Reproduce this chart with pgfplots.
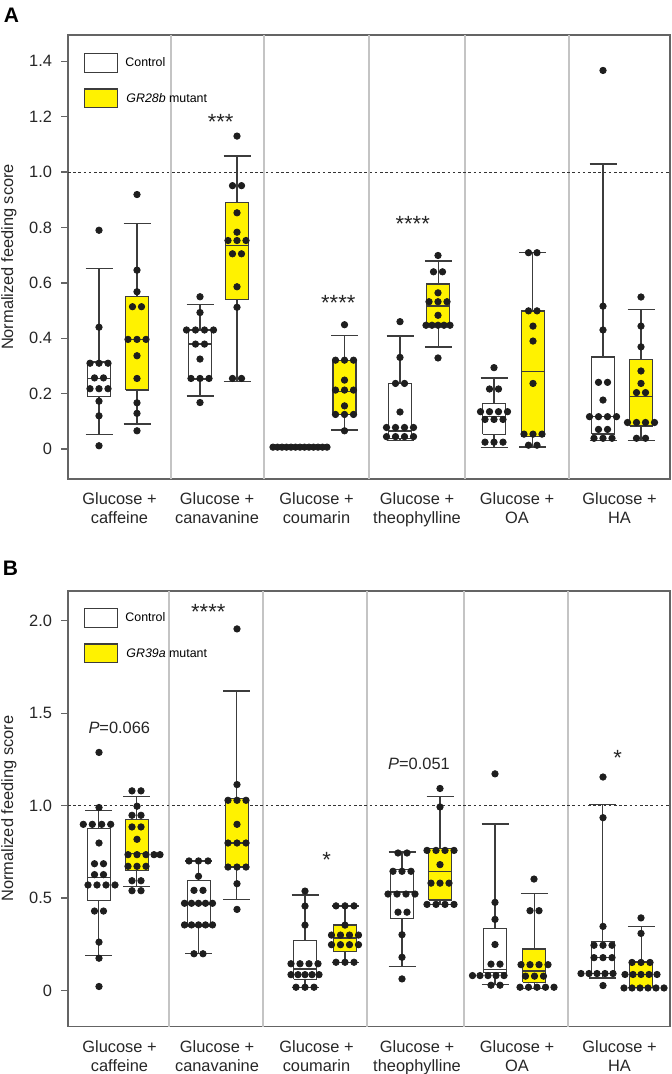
\documentclass[border=0pt]{standalone}
\usepackage{fontspec}
\setmainfont{Liberation Sans}
\usepackage{pgfplots}
\pgfplotsset{compat=1.18}
\definecolor{ylw}{HTML}{FFF200}
\definecolor{boxc}{HTML}{3C3C3C}
\definecolor{dotc}{HTML}{1E1E1E}
\definecolor{axc}{HTML}{646464}
\definecolor{sepc}{HTML}{C4C4C4}

\pgfplotsset{
  panel/.style={scale only axis, width=301pt, xmin=68, xmax=670,
    axis line style={draw=axc, line width=0.7pt},
    tick align=outside, ytick pos=left, major tick length=3.5pt,
    ytick style={draw=axc, line width=0.7pt}, xtick style={draw=none},
    tick label style={font=\fontsize{8.2}{9.3}\selectfont, text=black!85},
    xticklabel style={align=center, yshift=0pt},
    yticklabel style={xshift=-1pt},
    ylabel={Normalized feeding score},
    ylabel style={at={(axis description cs:-0.098,0.5)}, anchor=center,
      font=\fontsize{8.2}{9.6}\selectfont, text=black!85},
    xtick={119.5,217,316.5,417,517,619.5},
    xticklabels={{Glucose +\\caffeine},{Glucose +\\canavanine},{Glucose +\\coumarin},
      {Glucose +\\theophylline},{Glucose +\\OA},{Glucose +\\HA}},
    extra y ticks={1}, extra y tick labels={},
    extra y tick style={grid=major, major tick length=0pt,
      major grid style={draw=black!80, line width=0.5pt, dash pattern=on 1.3pt off 1.3pt}},
    extra x tick labels={},
    extra x tick style={grid=major, major grid style={draw=sepc, line width=0.6pt}},
    unbounded coords=jump,
  },
  bx/.style={draw=boxc, line width=0.65pt, solid, mark=none},
  dots/.style={only marks, mark=*, mark size=1.6pt, color=dotc,
    mark options={draw=dotc, fill=dotc}},
}
\tikzset{
  ann/.style={font=\fontsize{11}{13}\selectfont, text=black!85},
  pv/.style={font=\fontsize{8.2}{9.6}\selectfont, text=black!85},
}

\begin{document}
\begin{tikzpicture}
\path[use as bounding box] (0,0) rectangle (336pt,-537pt);

% ---------------- panel A ----------------
\begin{axis}[panel, at={(34pt,-239.5pt)}, anchor=south west, height=222pt,
  ymin=-0.108, ymax=1.495,
  ytick={0,0.2,0.4,0.6,0.8,1,1.2,1.4},
  yticklabels={0,0.2,0.4,0.6,0.8,1.0,1.2,1.4},
  extra x ticks={171,264,369,465,569}]
  % whiskers and caps
  \addplot[bx] coordinates {
    (99,0.053)(99,0.652)(nan,nan)(85.5,0.053)(112.5,0.053)(nan,nan)(85.5,0.652)(112.5,0.652)(nan,nan)
    (137,0.091)(137,0.815)(nan,nan)(123.5,0.091)(150.5,0.091)(nan,nan)(123.5,0.815)(150.5,0.815)(nan,nan)
    (200,0.192)(200,0.522)(nan,nan)(186.5,0.192)(213.5,0.192)(nan,nan)(186.5,0.522)(213.5,0.522)(nan,nan)
    (237,0.243)(237,1.058)(nan,nan)(223.5,0.243)(250.5,0.243)(nan,nan)(223.5,1.058)(250.5,1.058)(nan,nan)
    (292.5,0.007)(319.5,0.007)(nan,nan)
    (344.5,0.069)(344.5,0.409)(nan,nan)(331,0.069)(358,0.069)(nan,nan)(331,0.409)(358,0.409)(nan,nan)
    (400,0.03)(400,0.408)(nan,nan)(386.5,0.03)(413.5,0.03)(nan,nan)(386.5,0.408)(413.5,0.408)(nan,nan)
    (438.3,0.369)(438.3,0.679)(nan,nan)(424.8,0.369)(451.8,0.369)(nan,nan)(424.8,0.679)(451.8,0.679)(nan,nan)
    (494,0.006)(494,0.257)(nan,nan)(480.5,0.006)(507.5,0.006)(nan,nan)(480.5,0.257)(507.5,0.257)(nan,nan)
    (532.7,0.008)(532.7,0.709)(nan,nan)(519.2,0.008)(546.2,0.008)(nan,nan)(519.2,0.709)(546.2,0.709)(nan,nan)
    (603,0.03)(603,1.029)(nan,nan)(589.5,0.03)(616.5,0.03)(nan,nan)(589.5,1.029)(616.5,1.029)(nan,nan)
    (641,0.03)(641,0.504)(nan,nan)(627.5,0.03)(654.5,0.03)(nan,nan)(627.5,0.504)(654.5,0.504)
  };
  % boxes (lower quartile to upper quartile)
  \addplot[bx, fill=white] coordinates {(87.5,0.189)(110.5,0.189)(110.5,0.314)(87.5,0.314)(87.5,0.189)};
  \addplot[bx, fill=ylw] coordinates {(125.5,0.213)(148.5,0.213)(148.5,0.55)(125.5,0.55)(125.5,0.213)};
  \addplot[bx, fill=white] coordinates {(188.5,0.253)(211.5,0.253)(211.5,0.43)(188.5,0.43)(188.5,0.253)};
  \addplot[bx, fill=ylw] coordinates {(225.5,0.54)(248.5,0.54)(248.5,0.889)(225.5,0.889)(225.5,0.54)};
  \addplot[bx, fill=white] coordinates {(294.5,0.005)(317.5,0.005)(317.5,0.009)(294.5,0.009)(294.5,0.005)};
  \addplot[bx, fill=ylw] coordinates {(333,0.125)(356,0.125)(356,0.321)(333,0.321)(333,0.125)};
  \addplot[bx, fill=white] coordinates {(388.5,0.039)(411.5,0.039)(411.5,0.237)(388.5,0.237)(388.5,0.039)};
  \addplot[bx, fill=ylw] coordinates {(426.8,0.447)(449.8,0.447)(449.8,0.596)(426.8,0.596)(426.8,0.447)};
  \addplot[bx, fill=white] coordinates {(482.5,0.053)(505.5,0.053)(505.5,0.165)(482.5,0.165)(482.5,0.053)};
  \addplot[bx, fill=ylw] coordinates {(521.2,0.045)(544.2,0.045)(544.2,0.499)(521.2,0.499)(521.2,0.045)};
  \addplot[bx, fill=white] coordinates {(591.5,0.054)(614.5,0.054)(614.5,0.333)(591.5,0.333)(591.5,0.054)};
  \addplot[bx, fill=ylw] coordinates {(629.5,0.083)(652.5,0.083)(652.5,0.324)(629.5,0.324)(629.5,0.083)};
  % medians
  \addplot[bx] coordinates {
    (87.5,0.255)(110.5,0.255)(nan,nan)(125.5,0.396)(148.5,0.396)(nan,nan)
    (188.5,0.379)(211.5,0.379)(nan,nan)(225.5,0.735)(248.5,0.735)(nan,nan)
    (333,0.209)(356,0.209)(nan,nan)(388.5,0.065)(411.5,0.065)(nan,nan)
    (426.8,0.517)(449.8,0.517)(nan,nan)(482.5,0.117)(505.5,0.117)(nan,nan)
    (521.2,0.279)(544.2,0.279)(nan,nan)(591.5,0.117)(614.5,0.117)(nan,nan)
    (629.5,0.189)(652.5,0.189)
  };
  % individual flies
  \addplot[dots] coordinates {
    (99,0.79) (99,0.44) (90,0.31) (99,0.31) (108,0.31) (94.5,0.257) (103.5,0.257)
    (90,0.218) (99,0.218) (108,0.218) (99,0.173) (99,0.12) (99,0.012)
    (137,0.919) (137,0.646) (137,0.568) (132.5,0.514) (141.5,0.514) (128,0.396) (137,0.396)
    (146,0.396) (137,0.337) (137,0.255) (137,0.167) (137,0.129) (137,0.066)
    (200,0.55) (200,0.493) (186.5,0.43) (195.5,0.43) (204.5,0.43) (213.5,0.43) (195.5,0.379)
    (204.5,0.379) (200,0.325) (191,0.255) (200,0.255) (209,0.255) (200,0.168)
    (237,1.13) (232.5,0.951) (241.5,0.951) (237,0.853) (237,0.783) (228,0.753) (237,0.753)
    (246,0.753) (232.5,0.705) (241.5,0.705) (237,0.586) (237,0.512) (232.5,0.255) (241.5,0.255)
    (273,0.007) (277.5,0.007) (282,0.007) (286.5,0.007) (291,0.007) (295.5,0.007) (300,0.007)
    (304.5,0.007) (309,0.007) (313.5,0.007) (318,0.007) (322.5,0.007) (327,0.007)
    (344.5,0.449) (335.5,0.321) (344.5,0.321) (353.5,0.321) (344.5,0.249) (335.5,0.213)
    (344.5,0.213) (353.5,0.213) (344.5,0.156) (335.5,0.125) (344.5,0.125) (353.5,0.125) (344.5,0.066)
    (400,0.46) (400,0.331) (395.5,0.237) (404.5,0.237) (400,0.134) (386.5,0.078) (395.5,0.078)
    (404.5,0.078) (413.5,0.078) (386.5,0.045) (395.5,0.045) (404.5,0.045) (413.5,0.045)
    (438,0.699) (433.5,0.64) (442.5,0.64) (438,0.564) (429,0.532) (438,0.532) (447,0.532)
    (438,0.483) (426,0.447) (432,0.447) (438,0.447) (444,0.447) (450,0.447) (438,0.329)
    (494,0.294) (489.5,0.217) (498.5,0.217) (480.5,0.135) (489.5,0.135) (498.5,0.135) (507.5,0.135)
    (485,0.107) (494,0.107) (503,0.107) (485,0.025) (494,0.025) (503,0.025)
    (528.5,0.709) (537,0.709) (528.5,0.499) (537,0.499) (533,0.444) (533,0.39) (533,0.237)
    (524,0.054) (533,0.054) (542,0.054) (528.5,0.014) (537,0.014)
    (603,1.367) (603,0.516) (603,0.43) (598.5,0.241) (607.5,0.241) (603,0.177) (589.5,0.117)
    (598.5,0.117) (607.5,0.117) (616.5,0.117) (598.5,0.071) (607.5,0.071) (594,0.039) (603,0.039) (612,0.039)
    (641,0.549) (641,0.444) (641,0.369) (641,0.282) (641,0.237) (636.5,0.204) (645.5,0.204)
    (627.5,0.096) (636.5,0.096) (645.5,0.096) (654.5,0.096) (636.5,0.039) (645.5,0.039)
  };
  \node[ann, yshift=-2.2pt] at (axis cs:220.7,1.197) {***};
  \node[ann, yshift=-2.2pt] at (axis cs:338.3,0.544) {****};
  \node[ann, yshift=-2.2pt] at (axis cs:412.7,0.83) {****};
\end{axis}

% ---------------- panel B ----------------
\begin{axis}[panel, at={(34pt,-513.3pt)}, anchor=south west, height=217.8pt,
  ymin=-0.195, ymax=2.161,
  ytick={0,0.5,1,1.5,2},
  yticklabels={0,0.5,1.0,1.5,2.0},
  extra x ticks={169,263,367,464,568}]
  \addplot[bx] coordinates {
    (98.7,0.19)(98.7,0.975)(nan,nan)(85.2,0.19)(112.2,0.19)(nan,nan)(85.2,0.975)(112.2,0.975)(nan,nan)
    (136.7,0.563)(136.7,1.051)(nan,nan)(123.2,0.563)(150.2,0.563)(nan,nan)(123.2,1.051)(150.2,1.051)(nan,nan)
    (198.7,0.199)(198.7,0.701)(nan,nan)(185.2,0.199)(212.2,0.199)(nan,nan)(185.2,0.701)(212.2,0.701)(nan,nan)
    (236.7,0.493)(236.7,1.62)(nan,nan)(223.2,0.493)(250.2,0.493)(nan,nan)(223.2,1.62)(250.2,1.62)(nan,nan)
    (305,0.018)(305,0.517)(nan,nan)(291.5,0.018)(318.5,0.018)(nan,nan)(291.5,0.517)(318.5,0.517)(nan,nan)
    (345,0.153)(345,0.458)(nan,nan)(331.5,0.153)(358.5,0.153)(nan,nan)(331.5,0.458)(358.5,0.458)(nan,nan)
    (402,0.13)(402,0.749)(nan,nan)(388.5,0.13)(415.5,0.13)(nan,nan)(388.5,0.749)(415.5,0.749)(nan,nan)
    (440,0.466)(440,1.051)(nan,nan)(426.5,0.466)(453.5,0.466)(nan,nan)(426.5,1.051)(453.5,1.051)(nan,nan)
    (495,0.033)(495,0.901)(nan,nan)(481.5,0.033)(508.5,0.033)(nan,nan)(481.5,0.901)(508.5,0.901)(nan,nan)
    (534.3,0.012)(534.3,0.524)(nan,nan)(520.8,0.012)(547.8,0.012)(nan,nan)(520.8,0.524)(547.8,0.524)(nan,nan)
    (602.7,0.068)(602.7,1.006)(nan,nan)(589.2,0.068)(616.2,0.068)(nan,nan)(589.2,1.006)(616.2,1.006)(nan,nan)
    (641.3,0.015)(641.3,0.348)(nan,nan)(627.8,0.015)(654.8,0.015)(nan,nan)(627.8,0.348)(654.8,0.348)
  };
  \addplot[bx, fill=white] coordinates {(87.2,0.488)(110.2,0.488)(110.2,0.876)(87.2,0.876)(87.2,0.488)};
  \addplot[bx, fill=ylw] coordinates {(125.2,0.65)(148.2,0.65)(148.2,0.925)(125.2,0.925)(125.2,0.65)};
  \addplot[bx, fill=white] coordinates {(187.2,0.345)(210.2,0.345)(210.2,0.596)(187.2,0.596)(187.2,0.345)};
  \addplot[bx, fill=ylw] coordinates {(225.2,0.668)(248.2,0.668)(248.2,1.038)(225.2,1.038)(225.2,0.668)};
  \addplot[bx, fill=white] coordinates {(293.5,0.06)(316.5,0.06)(316.5,0.269)(293.5,0.269)(293.5,0.06)};
  \addplot[bx, fill=ylw] coordinates {(333.5,0.21)(356.5,0.21)(356.5,0.354)(333.5,0.354)(333.5,0.21)};
  \addplot[bx, fill=white] coordinates {(390.5,0.388)(413.5,0.388)(413.5,0.655)(390.5,0.655)(390.5,0.388)};
  \addplot[bx, fill=ylw] coordinates {(428.5,0.49)(451.5,0.49)(451.5,0.768)(428.5,0.768)(428.5,0.49)};
  \addplot[bx, fill=white] coordinates {(483.5,0.096)(506.5,0.096)(506.5,0.334)(483.5,0.334)(483.5,0.096)};
  \addplot[bx, fill=ylw] coordinates {(522.8,0.045)(545.8,0.045)(545.8,0.224)(522.8,0.224)(522.8,0.045)};
  \addplot[bx, fill=white] coordinates {(591.2,0.092)(614.2,0.092)(614.2,0.265)(591.2,0.265)(591.2,0.092)};
  \addplot[bx, fill=ylw] coordinates {(629.8,0.018)(652.8,0.018)(652.8,0.155)(629.8,0.155)(629.8,0.018)};
  \addplot[bx] coordinates {
    (87.2,0.61)(110.2,0.61)(nan,nan)(125.2,0.74)(148.2,0.74)(nan,nan)
    (187.2,0.465)(210.2,0.465)(nan,nan)(225.2,0.798)(248.2,0.798)(nan,nan)
    (293.5,0.116)(316.5,0.116)(nan,nan)(333.5,0.285)(356.5,0.285)(nan,nan)
    (390.5,0.533)(413.5,0.533)(nan,nan)(428.5,0.645)(451.5,0.645)(nan,nan)
    (483.5,0.115)(506.5,0.115)(nan,nan)(522.8,0.106)(545.8,0.106)(nan,nan)
    (591.2,0.18)(614.2,0.18)(nan,nan)(629.8,0.088)(652.8,0.088)
  };
  \addplot[dots] coordinates {
    (99,1.288) (99,0.99) (83.3,0.899) (92.3,0.899) (101.7,0.899) (110.7,0.899) (99,0.798)
    (94.5,0.686) (103.5,0.686) (94.5,0.627) (103.5,0.627) (88,0.571) (97,0.571) (106,0.571)
    (115,0.571) (94.5,0.43) (103.5,0.43) (99,0.262) (99,0.175) (99,0.022)
    (132,1.08) (141,1.08) (137,0.997) (132,0.948) (141,0.948) (132,0.885) (141,0.885) (137,0.818)
    (128,0.735) (137,0.735) (146,0.735) (154,0.735) (160,0.735) (128,0.672) (137,0.672) (146,0.672)
    (132,0.594) (141,0.594) (132,0.54) (141,0.54)
    (189,0.701) (198.5,0.701) (208,0.701) (198.5,0.618) (194,0.542) (203,0.542)
    (184.5,0.472) (191.5,0.472) (198.5,0.472) (205.5,0.472) (212.5,0.472)
    (184.5,0.355) (191.5,0.355) (198.5,0.355) (205.5,0.355) (212.5,0.355) (194,0.199) (203,0.199)
    (237,1.956) (237,1.114) (228,1.029) (237,1.029) (246,1.029) (237,0.899) (228,0.798) (237,0.798)
    (246,0.798) (228,0.668) (237,0.668) (246,0.668) (237,0.578) (237,0.439)
    (305,0.538) (305,0.457) (305,0.354) (291,0.145) (300,0.145) (309,0.145) (318,0.145)
    (291,0.086) (298,0.086) (305,0.086) (312,0.086) (319,0.086) (296,0.018) (305,0.018) (314,0.018)
    (336,0.458) (345,0.458) (354,0.458) (345,0.354) (331.5,0.3) (340.5,0.3) (349.5,0.3) (358.5,0.3)
    (331.5,0.248) (340.5,0.248) (349.5,0.248) (358.5,0.248) (336,0.153) (345,0.153) (354,0.153)
    (398,0.744) (407,0.744) (393,0.645) (402,0.645) (411,0.645) (388,0.522) (397,0.522) (406,0.522)
    (415,0.522) (398,0.424) (407,0.424) (402,0.302) (402,0.18) (402,0.063)
    (440,1.093) (440,0.993) (427,0.758) (436,0.758) (445,0.758) (454,0.758) (440,0.681)
    (431,0.581) (440,0.581) (449,0.581) (427,0.466) (436,0.466) (445,0.466) (454,0.466)
    (495,1.172) (495,0.477) (495,0.385) (495,0.249) (491,0.143) (500,0.143) (472.5,0.081)
    (480,0.081) (488,0.081) (496,0.081) (504,0.081) (491,0.029) (500,0.029)
    (534,0.603) (530,0.432) (539,0.432) (521,0.14) (530,0.14) (539,0.14) (548,0.14)
    (525.5,0.078) (534.5,0.078) (543.5,0.078) (520,0.018) (528.5,0.018) (537,0.018) (545.5,0.018) (554,0.018)
    (603,1.155) (603,0.935) (603,0.347) (594,0.245) (603,0.245) (612,0.245) (594,0.178) (603,0.178)
    (612,0.178) (581,0.092) (589,0.092) (597,0.092) (605,0.092) (613,0.092) (603,0.027)
    (641,0.393) (641,0.309) (632,0.152) (641,0.152) (650,0.152) (625,0.087) (633,0.087) (641,0.087)
    (649,0.087) (657,0.087) (624,0.014) (632,0.014) (640,0.014) (648,0.014) (656,0.014) (664,0.014)
  };
  \node[ann, yshift=-2.2pt] at (axis cs:208.3,2.07) {****};
  \node[ann, yshift=-2.2pt] at (axis cs:326.7,0.731) {*};
  \node[ann, yshift=-2.2pt] at (axis cs:617.7,1.282) {*};
  \node[pv] at (axis cs:119.3,1.423) {\textit{P}=0.066};
  \node[pv] at (axis cs:419,1.224) {\textit{P}=0.051};
\end{axis}

% legends and panel letters (pixel grid of the reference)
\begin{scope}[x=0.5pt, y=-0.5pt]
  \node[font=\bfseries\fontsize{10.5}{12}\selectfont] at (11.5,15) {A};
  \node[font=\bfseries\fontsize{10.5}{12}\selectfont] at (10.5,568) {B};
  \draw[draw=boxc, line width=0.6pt, fill=white] (84.3,53.3) rectangle (117.3,72.3);
  \draw[draw=boxc, line width=0.6pt, fill=ylw] (84.3,89) rectangle (117.3,107.7);
  \node[anchor=west, inner sep=0pt, font=\fontsize{6.2}{7}\selectfont] at (125,62.5) {Control};
  \node[anchor=west, inner sep=0pt, font=\fontsize{6.2}{7}\selectfont] at (126,98.5) {\textit{GR28b} mutant};
  \draw[draw=boxc, line width=0.6pt, fill=white] (84.3,608.3) rectangle (117.3,627.3);
  \draw[draw=boxc, line width=0.6pt, fill=ylw] (84.3,644) rectangle (117.3,662.3);
  \node[anchor=west, inner sep=0pt, font=\fontsize{6.2}{7}\selectfont] at (125,617.5) {Control};
  \node[anchor=west, inner sep=0pt, font=\fontsize{6.2}{7}\selectfont] at (126,653) {\textit{GR39a} mutant};
\end{scope}
\end{tikzpicture}
\end{document}
